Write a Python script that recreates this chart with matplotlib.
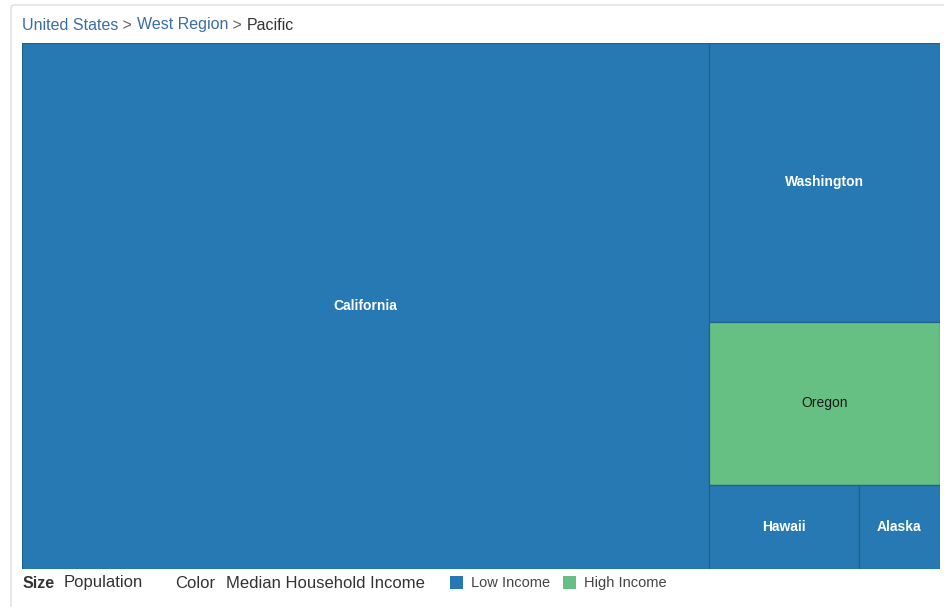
import matplotlib.pyplot as plt
from matplotlib.patches import Rectangle, FancyBboxPatch

plt.rcParams['font.family'] = ['Liberation Sans', 'DejaVu Sans']

# Pacific states: population (millions) and income class
states = ['California', 'Washington', 'Oregon', 'Hawaii', 'Alaska']
population = [39.2, 7.0, 4.1, 1.37, 0.74]
income = ['Low Income', 'Low Income', 'High Income', 'Low Income', 'Low Income']

colors = {'Low Income': '#2679b2', 'High Income': '#67c083'}
label_colors = {'Low Income': 'white', 'High Income': '#1a1a1a'}


# simple squarified treemap layout
def worst(row, w):
    s = sum(row)
    return max(max(w * w * r / (s * s), (s * s) / (w * w * r)) for r in row)


def layout_row(row, x, y, dx, dy):
    s = sum(row)
    rects = []
    if dx >= dy:
        # vertical column on the left
        width = s / dy
        yy = y
        for r in row:
            h = r / width
            rects.append((x, yy, width, h))
            yy += h
        return rects, (x + width, y, dx - width, dy)
    else:
        height = s / dx
        xx = x
        for r in row:
            w = r / height
            rects.append((xx, y, w, height))
            xx += w
        return rects, (x, y + height, dx, dy - height)


def squarify(values, x, y, dx, dy):
    total = sum(values)
    areas = [v * dx * dy / total for v in values]
    rects = []
    row = []
    i = 0
    while i < len(areas):
        short = min(dx, dy)
        if not row or worst(row + [areas[i]], short) <= worst(row, short):
            row.append(areas[i])
            i += 1
        else:
            r, (x, y, dx, dy) = layout_row(row, x, y, dx, dy)
            rects += r
            row = []
    if row:
        r, _ = layout_row(row, x, y, dx, dy)
        rects += r
    return rects


W, H = 918.0, 526.0
rects = squarify(population, 0, 0, W, H)

fig = plt.figure(figsize=(9.44, 6.07), dpi=100)
fig.patch.set_facecolor('white')

# outer panel border
panel = FancyBboxPatch((11 / 944, -0.05), 1.0, 1.05 - 5 / 607,
                       boxstyle='round,pad=0,rounding_size=0.004',
                       transform=fig.transFigure, facecolor='white',
                       edgecolor='#dddddd', linewidth=1.0, zorder=-5)
fig.patches.append(panel)

ax = fig.add_axes([22 / 944, 38 / 607, W / 944, H / 607], zorder=2)
ax.set_xlim(0, W)
ax.set_ylim(H, 0)
ax.axis('off')

for (x, y, w, h), name, inc in zip(rects, states, income):
    ax.add_patch(Rectangle((x, y), w, h, facecolor=colors[inc],
                           edgecolor='#1f6290', linewidth=0.9))
    ax.text(x + w / 2, y + h / 2, name, ha='center', va='center',
            fontsize=10, color=label_colors[inc],
            fontweight='bold' if inc == 'Low Income' else 'normal')

# breadcrumb
ty = 1 - 25 / 607
parts = [('United States', '#3a6ea5'), (' > ', '#666666'),
         ('West Region', '#3a6ea5'), (' > ', '#666666'), ('Pacific', '#333333')]
fig.canvas.draw()
r = fig.canvas.get_renderer()
xpos = 22
for txt, c in parts:
    t = fig.text(xpos / 944, ty, txt, fontsize=11.5, color=c, va='center', ha='left')
    bb = t.get_window_extent(renderer=r)
    xpos += bb.width

# bottom legend
ly = 1 - 583 / 607
fig.text(23 / 944, ly, 'Size', fontsize=11.5, fontweight='bold', color='#333333', va='center')
fig.text(64 / 944, ly, 'Population', fontsize=12, color='#333333', va='center')
fig.text(175 / 944, ly, 'Color', fontsize=12, color='#333333', va='center')
fig.text(226 / 944, ly, 'Median Household Income', fontsize=12, color='#333333', va='center')
for lx, lab in [(450, 'Low Income'), (563, 'High Income')]:
    fig.patches.append(Rectangle((lx / 944, ly - 6 / 607), 13 / 944, 13 / 607,
                                 transform=fig.transFigure, facecolor=colors[lab],
                                 edgecolor='none'))
    fig.text((lx + 21) / 944, ly, lab, fontsize=10.5, color='#444444', va='center')

fig.savefig('out.png', dpi=100)
